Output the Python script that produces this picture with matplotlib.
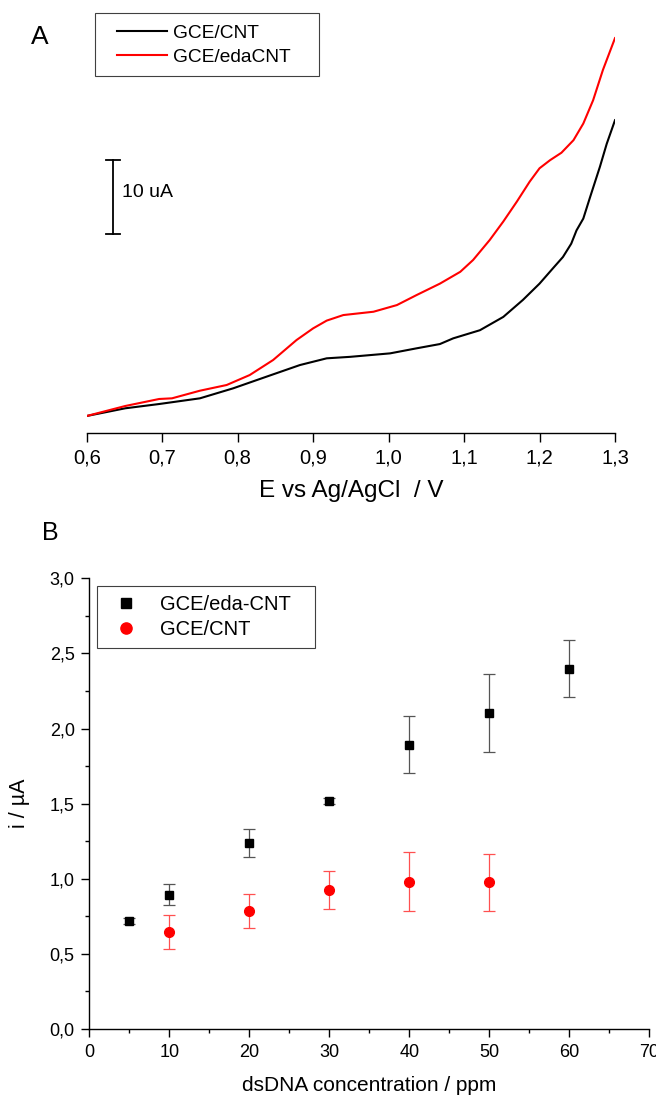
import matplotlib
matplotlib.use("Agg")
import matplotlib.pyplot as plt
from matplotlib.patches import Rectangle
from matplotlib.ticker import MultipleLocator

plt.rcParams['font.family'] = ['Liberation Sans', 'DejaVu Sans']

# --- panel A: voltammograms (current in uA, both curves start at 0) ---
e_cnt = [0.600, 0.651, 0.696, 0.750, 0.794, 0.838, 0.8825, 0.918, 0.949, 1.002,
         1.037, 1.068, 1.0856, 1.121, 1.152, 1.178, 1.200, 1.218, 1.231, 1.242,
         1.249, 1.258, 1.267, 1.280, 1.289, 1.300]
i_cnt = [0.0, 1.04, 1.62, 2.39, 3.74, 5.31, 6.89, 7.8, 8.0, 8.47,
         9.15, 9.73, 10.5, 11.6, 13.4, 15.7, 17.9, 20.0, 21.5, 23.3,
         25.1, 26.7, 29.6, 33.7, 36.8, 40.0]

e_eda = [0.600, 0.651, 0.696, 0.713, 0.750, 0.7854, 0.816, 0.847, 0.878, 0.900,
         0.918, 0.940, 0.980, 1.011, 1.037, 1.068, 1.095, 1.112, 1.134, 1.152,
         1.170, 1.187, 1.200, 1.214, 1.229, 1.245, 1.258, 1.271, 1.284, 1.300]
i_eda = [0.0, 1.35, 2.30, 2.39, 3.42, 4.19, 5.54, 7.57, 10.27, 11.85,
         12.9, 13.65, 14.1, 15.0, 16.35, 17.9, 19.5, 21.1, 23.8, 26.3,
         29.0, 31.7, 33.5, 34.6, 35.6, 37.3, 39.55, 42.7, 46.8, 51.1]

scale_bar_ua = 10
scale_bar_bottom = 24.6
scale_bar_e = 0.635

xticks_a = [0.6, 0.7, 0.8, 0.9, 1.0, 1.1, 1.2, 1.3]
xticklabels_a = ['0,6', '0,7', '0,8', '0,9', '1,0', '1,1', '1,2', '1,3']

# --- panel B: peak current vs dsDNA concentration ---
conc_eda = [5, 10, 20, 30, 40, 50, 60]
i_eda_mean = [0.72, 0.893, 1.238, 1.516, 1.893, 2.105, 2.398]
i_eda_err = [0.02, 0.07, 0.09, 0.02, 0.19, 0.26, 0.19]

conc_cnt = [10, 20, 30, 40, 50]
i_cnt_mean = [0.647, 0.784, 0.924, 0.98, 0.978]
i_cnt_err = [0.115, 0.115, 0.125, 0.197, 0.19]

xticks_b = [0, 10, 20, 30, 40, 50, 60, 70]
xticklabels_b = ['0', '10', '20', '30', '40', '50', '60', '70']
yticks_b = [0.0, 0.5, 1.0, 1.5, 2.0, 2.5, 3.0]
yticklabels_b = ['0,0', '0,5', '1,0', '1,5', '2,0', '2,5', '3,0']

W, H = 656, 1097


def fx(x):
    return x / W


def fy(y):
    return 1 - y / H


fig = plt.figure(figsize=(W / 100, H / 100), dpi=100)

# ---------------- panel A ----------------
axa = fig.add_axes([fx(86.7), fy(433.3), (615 - 86.7) / W, (433.3 - 30) / H])
axa.plot(e_cnt, i_cnt, color='black', lw=1.5, label='GCE/CNT')
axa.plot(e_eda, i_eda, color='#ff0000', lw=1.5, label='GCE/edaCNT')
axa.set_xlim(0.6, 1.3)
axa.set_ylim(-2.34, 52.2)
for s in ['left', 'right', 'top']:
    axa.spines[s].set_visible(False)
axa.spines['bottom'].set_linewidth(1.0)
axa.set_yticks([])
axa.set_xticks(xticks_a)
axa.set_xticklabels(xticklabels_a)
axa.tick_params(axis='x', direction='out', length=6.7, width=1.0, pad=4.5, labelsize=14.5)
axa.set_xlabel('E vs Ag/AgCl  / V', fontsize=17.5, labelpad=9)

# scale bar
cap = 0.0093
axa.plot([scale_bar_e, scale_bar_e], [scale_bar_bottom, scale_bar_bottom + scale_bar_ua],
         color='black', lw=1.3)
for yy in [scale_bar_bottom, scale_bar_bottom + scale_bar_ua]:
    axa.plot([scale_bar_e - cap, scale_bar_e + cap], [yy, yy], color='black', lw=1.3)
axa.text(0.647, scale_bar_bottom + scale_bar_ua / 2 + 0.6, '10 uA', fontsize=14,
         ha='left', va='center')

lega = axa.legend(loc='center left', bbox_to_anchor=(fx(117), fy(45)),
                  bbox_transform=fig.transFigure, frameon=False, fontsize=13.8,
                  borderpad=0, borderaxespad=0, handlelength=2.6,
                  handletextpad=0.3, labelspacing=0.33)
fig.patches.append(Rectangle((fx(95), fy(76)), (319 - 95) / W, (76 - 13) / H,
                             transform=fig.transFigure, fill=False,
                             edgecolor='#404040', lw=0.8))
fig.text(fx(31), fy(44), 'A', fontsize=19, ha='left', va='baseline')

# ---------------- panel B ----------------
axb = fig.add_axes([fx(89.3), fy(1029), (649.3 - 89.3) / W, (1029 - 578.3) / H])
eb_eda = axb.errorbar(conc_eda, i_eda_mean, yerr=i_eda_err, fmt='s', color='black', ms=6.3,
                      ecolor='#555555', elinewidth=0.9, capsize=4, capthick=0.9)
eb_cnt = axb.errorbar(conc_cnt, i_cnt_mean, yerr=i_cnt_err, fmt='o', color='#ff0000', ms=7,
                      ecolor='#ff5050', elinewidth=0.9, capsize=4, capthick=0.9)
axb.set_xlim(0, 70)
axb.set_ylim(0, 3.0)
for s in ['right', 'top']:
    axb.spines[s].set_visible(False)
for s in ['left', 'bottom']:
    axb.spines[s].set_linewidth(1.0)
axb.set_xticks(xticks_b)
axb.set_xticklabels(xticklabels_b)
axb.set_yticks(yticks_b)
axb.set_yticklabels(yticklabels_b)
axb.xaxis.set_minor_locator(MultipleLocator(5))
axb.yaxis.set_minor_locator(MultipleLocator(0.25))
axb.tick_params(which='major', direction='out', length=6, width=1.0, pad=4.5, labelsize=13)
axb.tick_params(which='minor', direction='out', length=3, width=1.0)
axb.set_xlabel('dsDNA concentration / ppm', fontsize=15, labelpad=11)
axb.set_ylabel('i / µA', fontsize=15.5, labelpad=14)

legb = axb.legend([eb_eda[0], eb_cnt[0]], ['GCE/eda-CNT', 'GCE/CNT'],
                  loc='center left', bbox_to_anchor=(fx(107.4), fy(616.7)),
                  bbox_transform=fig.transFigure, frameon=False, fontsize=14.5,
                  borderpad=0, borderaxespad=0, handlelength=1.82,
                  handletextpad=0.8, labelspacing=0.3, numpoints=1, markerscale=1.15)
fig.patches.append(Rectangle((fx(97.3), fy(647.7)), (315 - 97.3) / W, (647.7 - 586) / H,
                             transform=fig.transFigure, fill=False,
                             edgecolor='#404040', lw=0.8))
fig.text(fx(42), fy(540), 'B', fontsize=18, ha='left', va='baseline')

fig.savefig('out.png', dpi=100)
